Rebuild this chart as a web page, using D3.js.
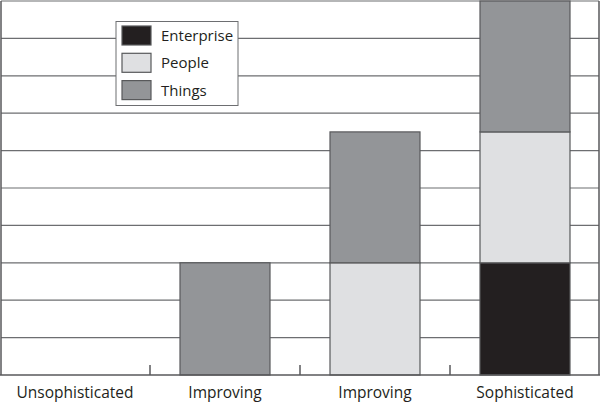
<!DOCTYPE html>
<html><head><meta charset="utf-8">
<script src="https://cdn.jsdelivr.net/npm/d3@7"></script>
<style>html,body{margin:0;padding:0;background:#fff;}svg{display:block;}</style>
</head><body>
<svg id="c" width="600" height="403"></svg>
<script>
const categories = ["Unsophisticated", "Improving", "Improving ", "Sophisticated"];
const seriesNames = ["Enterprise", "People", "Things"];
const enterprise = [0, 0, 0, 3];
const people = [0, 0, 3, 3.5];
const things = [0, 3, 3.5, 3.5];
const yTicks = [0,1,2,3,4,5,6,7,8,9,10];
const colors = {Enterprise: "#231f20", People: "#dfe0e2", Things: "#939598"};

const svg = d3.select("#c");
const x = d3.scaleBand().domain(categories).range([0, 600]).padding(0);
const y = d3.scaleLinear().domain([0, 10]).range([375, 1]);

const rows = categories.map((c, i) => ({cat: c, Enterprise: enterprise[i], People: people[i], Things: things[i]}));
const stack = d3.stack().keys(seriesNames)(rows);

// gridlines
svg.append("g").selectAll("line").data(yTicks.filter(t => t > 0)).join("line")
  .attr("x1", 1).attr("x2", 599).attr("y1", d => y(d)).attr("y2", d => y(d))
  .attr("stroke", "#6d6e71").attr("stroke-width", 1.2);

// right border
svg.append("line").attr("x1", 599).attr("x2", 599).attr("y1", y(10)).attr("y2", y(0))
  .attr("stroke", "#58595b").attr("stroke-width", 1.5);

// bars
const bw = x.bandwidth() * 0.6;
svg.append("g").selectAll("g").data(stack).join("g")
  .attr("fill", d => colors[d.key])
  .selectAll("rect").data(d => d.filter(s => s[1] - s[0] > 0)).join("rect")
  .attr("x", d => x(d.data.cat) + (x.bandwidth() - bw) / 2)
  .attr("width", bw)
  .attr("y", d => y(d[1]))
  .attr("height", d => y(d[0]) - y(d[1]))
  .attr("stroke", "#58595b").attr("stroke-width", 1.2);

// x axis
const xAxis = svg.append("g").attr("transform", "translate(0,375)")
  .call(d3.axisBottom(x).tickSize(0).tickPadding(12));
xAxis.select(".domain").remove();
xAxis.selectAll("text").attr("font-family", "'Open Sans', sans-serif").attr("font-size", 15.5).attr("fill", "#231f20")
  .attr("dy", "0.71em");
svg.append("line").attr("x1", 0).attr("x2", 600).attr("y1", 375).attr("y2", 375)
  .attr("stroke", "#58595b").attr("stroke-width", 1.5);
// separator ticks at band boundaries
svg.append("g").selectAll("line").data(categories.slice(1)).join("line")
  .attr("x1", d => x(d)).attr("x2", d => x(d)).attr("y1", 365).attr("y2", 375)
  .attr("stroke", "#58595b").attr("stroke-width", 1.5);
// left axis
svg.append("line").attr("x1", 1).attr("x2", 1).attr("y1", y(10)).attr("y2", y(0))
  .attr("stroke", "#58595b").attr("stroke-width", 1.5);

// legend
const lg = svg.append("g").attr("transform", "translate(116,21.5)");
lg.append("rect").attr("width", 122).attr("height", 84).attr("fill", "#fff")
  .attr("stroke", "#6d6e71").attr("stroke-width", 1);
const li = lg.selectAll("g").data(seriesNames).join("g")
  .attr("transform", (d, i) => `translate(6,${4.5 + i * 27.3})`);
li.append("rect").attr("width", 29).attr("height", 19).attr("fill", d => colors[d])
  .attr("stroke", "#58595b").attr("stroke-width", 1.2);
li.append("text").attr("x", 39).attr("y", 15).text(d => d)
  .attr("font-family", "'Open Sans', sans-serif").attr("font-size", 15).attr("fill", "#231f20");
</script>
</body></html>
